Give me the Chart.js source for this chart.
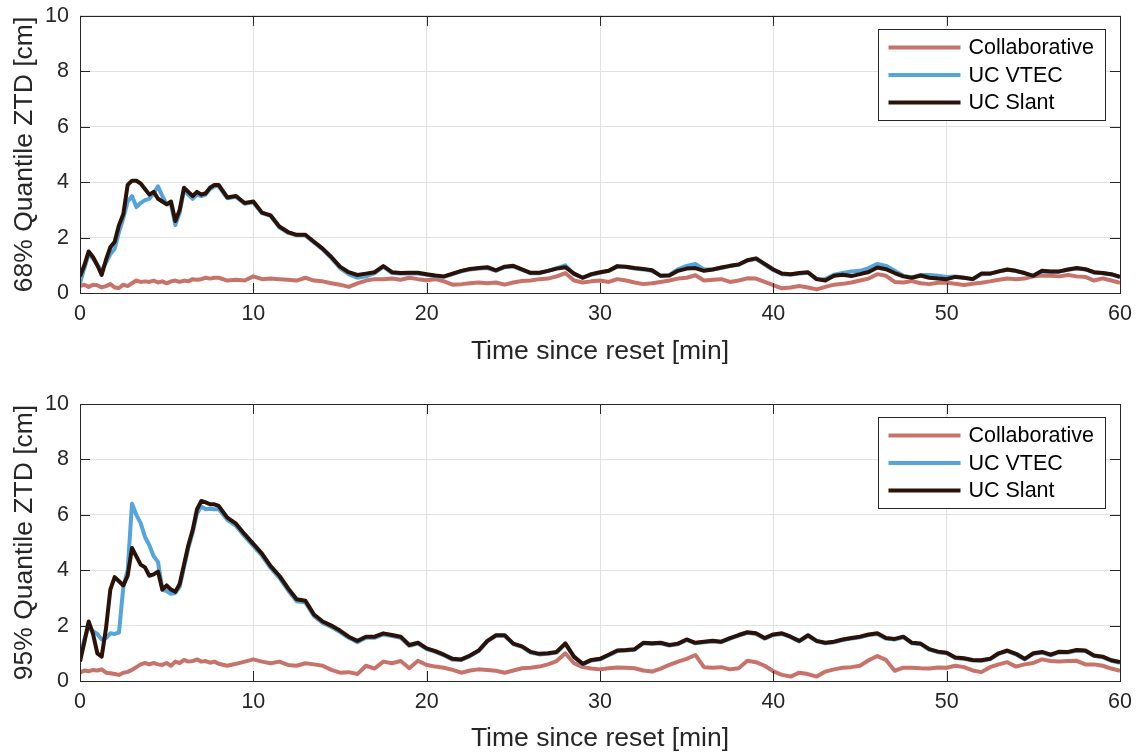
<!DOCTYPE html>
<html>
<head>
<meta charset="utf-8">
<script src="https://cdn.jsdelivr.net/npm/chart.js@4.4.1/dist/chart.umd.min.js"></script>
<style>
  body { margin: 0; background: #fff; overflow: hidden; }
  #wrap { position: relative; width: 1145px; height: 755px; overflow: hidden; }
  canvas { position: absolute; left: 0; }
</style>
</head>
<body>
<div id="wrap">
  <canvas id="chart68" width="1145" height="386" style="top:-8px"></canvas>
  <canvas id="chart95" width="1145" height="377" style="top:378px"></canvas>
</div>
<script>
// time since reset [min]
const timeMin = [0,0.25,0.5,0.75,1,1.25,1.5,1.75,2,2.25,2.5,2.75,3,3.25,3.5,3.75,4,4.25,4.5,4.75,5,5.25,5.5,5.75,6,6.25,6.5,6.75,7,7.25,7.5,7.75,8,
  8.5,9,9.5,10,10.5,11,11.5,12,12.5,13,13.5,14,14.5,15,15.5,16,16.5,17,17.5,18,18.5,19,19.5,20,20.5,21,21.5,22,22.5,23,23.5,24,24.5,25,25.5,26,26.5,27,27.5,28,
  28.5,29,29.5,30,30.5,31,31.5,32,32.5,33,33.5,34,34.5,35,35.5,36,36.5,37,37.5,38,38.5,39,39.5,40,40.5,41,41.5,42,42.5,43,43.5,44,44.5,45,45.5,46,46.5,47,47.5,48,
  48.5,49,49.5,50,50.5,51,51.5,52,52.5,53,53.5,54,54.5,55,55.5,56,56.5,57,57.5,58,58.5,59,59.5,60];

const seriesNames = ['Collaborative', 'UC VTEC', 'UC Slant'];
const xTicks = [0, 10, 20, 30, 40, 50, 60];
const yTicks = [0, 2, 4, 6, 8, 10];

// 68% quantile [cm]
const collab68 = [0.25,0.3,0.22,0.3,0.28,0.2,0.25,0.32,0.2,0.18,0.3,0.25,0.35,0.45,0.4,0.42,0.4,0.45,0.38,0.42,0.35,0.42,0.45,0.4,0.45,0.42,0.5,0.48,0.5,0.55,0.52,0.55,0.55,
  0.45,0.48,0.45,0.6,0.5,0.52,0.5,0.48,0.45,0.55,
  0.45,0.42,0.35,0.3,0.22,0.35,0.45,0.5,0.5,0.52,
  0.48,0.55,0.5,0.46,0.5,0.42,0.3,0.32,0.35,0.38,
  0.35,0.38,0.3,0.38,0.43,0.45,0.5,0.52,0.6,0.72,
  0.45,0.38,0.42,0.45,0.4,0.5,0.45,0.38,0.32,0.35,
  0.4,0.45,0.52,0.55,0.64,0.45,0.48,0.5,0.4,0.45,
  0.53,0.52,0.4,0.28,0.17,0.2,0.25,0.2,0.13,0.22,
  0.3,0.33,0.38,0.45,0.52,0.68,0.62,0.4,0.38,0.43,
  0.35,0.32,0.37,0.38,0.33,0.29,0.33,0.37,0.42,0.48,
  0.52,0.5,0.52,0.6,0.63,0.62,0.6,0.65,0.6,0.58,
  0.45,0.53,0.45,0.37];
const vtec68 = [0.35,0.9,1.4,1.25,1.0,0.8,1.1,1.4,1.6,2.2,2.7,3.3,3.5,3.1,3.25,3.35,3.4,3.6,3.85,3.5,3.2,3.2,2.45,2.9,3.7,3.55,3.4,3.55,3.5,3.55,3.75,3.85,3.85,
  3.42,3.47,3.22,3.27,2.88,2.78,2.37,2.17,2.08,2.08,
  1.82,1.57,1.26,0.9,0.68,0.55,0.6,0.72,0.95,0.72,
  0.7,0.71,0.7,0.66,0.6,0.58,0.68,0.78,0.85,0.88,
  0.9,0.8,0.93,0.96,0.83,0.71,0.71,0.8,0.9,1.0,
  0.68,0.55,0.66,0.73,0.8,0.95,0.94,0.88,0.85,0.8,
  0.62,0.65,0.85,0.98,1.05,0.85,0.85,0.9,0.97,1.02,
  1.17,1.23,1.03,0.83,0.68,0.66,0.7,0.73,0.5,0.5,
  0.66,0.72,0.78,0.8,0.9,1.05,0.98,0.8,0.62,0.56,
  0.65,0.65,0.62,0.58,0.6,0.55,0.5,0.68,0.69,0.77,
  0.84,0.79,0.71,0.62,0.78,0.77,0.77,0.84,0.88,0.85,
  0.74,0.71,0.67,0.57];
const slant68 = [0.6,1.0,1.5,1.3,1.0,0.65,1.2,1.65,1.85,2.45,2.85,3.9,4.05,4.05,3.95,3.75,3.55,3.65,3.4,3.3,3.2,3.3,2.6,3.0,3.8,3.65,3.5,3.65,3.55,3.6,3.8,3.9,3.9,
  3.45,3.5,3.25,3.3,2.9,2.8,2.4,2.2,2.1,2.1,
  1.85,1.6,1.3,0.95,0.75,0.65,0.7,0.75,0.97,0.75,
  0.72,0.73,0.73,0.68,0.63,0.6,0.7,0.8,0.87,0.9,
  0.93,0.82,0.95,0.98,0.85,0.73,0.73,0.8,0.88,0.93,
  0.7,0.55,0.68,0.75,0.8,0.97,0.95,0.9,0.87,0.82,
  0.62,0.63,0.8,0.88,0.9,0.8,0.85,0.92,0.98,1.03,
  1.18,1.25,1.05,0.85,0.7,0.68,0.72,0.75,0.5,0.45,
  0.62,0.66,0.61,0.68,0.76,0.92,0.86,0.72,0.6,0.55,
  0.63,0.55,0.52,0.5,0.58,0.55,0.5,0.7,0.7,0.78,
  0.85,0.8,0.72,0.62,0.8,0.78,0.78,0.85,0.9,0.86,
  0.75,0.72,0.68,0.58];

// 95% quantile [cm]
const collab95 = [0.3,0.38,0.35,0.4,0.38,0.42,0.3,0.28,0.25,0.22,0.3,0.33,0.4,0.5,0.6,0.65,0.6,0.65,0.6,0.58,0.65,0.55,0.7,0.65,0.76,0.7,0.72,0.78,0.7,0.72,0.66,0.7,0.62,
  0.55,0.62,0.7,0.78,0.7,0.64,0.7,0.58,0.55,0.64,
  0.6,0.55,0.4,0.3,0.32,0.25,0.55,0.45,0.7,0.64,
  0.72,0.46,0.73,0.58,0.52,0.48,0.4,0.3,0.38,0.42,
  0.4,0.37,0.3,0.38,0.46,0.48,0.52,0.6,0.72,1.0,
  0.64,0.5,0.45,0.42,0.46,0.49,0.48,0.46,0.38,0.34,
  0.45,0.58,0.7,0.8,0.94,0.5,0.48,0.5,0.42,0.46,
  0.73,0.68,0.55,0.35,0.22,0.16,0.3,0.25,0.16,0.34,
  0.42,0.48,0.5,0.55,0.75,0.9,0.76,0.37,0.48,0.48,
  0.46,0.45,0.49,0.48,0.55,0.5,0.38,0.32,0.5,0.6,
  0.68,0.52,0.6,0.65,0.78,0.72,0.7,0.72,0.73,0.6,
  0.6,0.55,0.45,0.37];
const vtec95 = [0.88,1.5,1.95,1.8,1.7,1.5,1.55,1.72,1.7,1.75,3.4,4.0,6.4,6.0,5.7,5.2,4.9,4.5,4.3,3.3,3.25,3.15,3.18,3.4,4.1,4.8,5.35,6.05,6.3,6.2,6.22,6.2,6.2,
  5.82,5.6,5.22,4.88,4.52,4.08,3.72,3.28,2.88,2.84,
  2.34,2.1,1.95,1.77,1.56,1.4,1.56,1.56,1.68,1.62,
  1.56,1.27,1.35,1.15,1.05,0.92,0.77,0.76,0.9,1.08,
  1.43,1.63,1.63,1.33,1.23,1.03,0.96,0.98,1.03,1.34,
  0.86,0.6,0.74,0.78,0.93,1.08,1.1,1.13,1.36,1.34,
  1.36,1.28,1.33,1.48,1.36,1.4,1.43,1.4,1.53,1.64,
  1.74,1.7,1.53,1.66,1.7,1.58,1.43,1.63,1.43,1.36,
  1.4,1.48,1.53,1.58,1.66,1.7,1.53,1.5,1.58,1.36,
  1.33,1.13,1.04,1.0,0.83,0.8,0.74,0.73,0.78,0.98,
  1.08,0.96,0.78,0.98,1.03,0.93,1.04,1.03,1.1,1.08,
  0.9,0.86,0.73,0.66];
const slant95 = [0.7,1.4,2.15,1.7,1.0,0.88,1.9,3.3,3.75,3.6,3.45,3.8,4.8,4.5,4.2,4.1,3.8,3.85,3.95,3.3,3.45,3.3,3.22,3.5,4.2,4.9,5.45,6.2,6.5,6.45,6.38,6.38,6.32,
  5.9,5.68,5.3,4.95,4.6,4.15,3.8,3.35,2.95,2.9,
  2.4,2.15,2.0,1.82,1.6,1.45,1.6,1.6,1.72,1.66,
  1.6,1.3,1.38,1.18,1.08,0.95,0.8,0.78,0.92,1.1,
  1.45,1.65,1.65,1.35,1.25,1.05,0.98,1.0,1.05,1.36,
  0.88,0.62,0.76,0.8,0.95,1.1,1.12,1.15,1.38,1.36,
  1.38,1.3,1.35,1.5,1.38,1.42,1.45,1.42,1.55,1.66,
  1.76,1.72,1.55,1.68,1.72,1.6,1.45,1.65,1.45,1.38,
  1.42,1.5,1.55,1.6,1.68,1.72,1.55,1.52,1.6,1.38,
  1.35,1.15,1.06,1.02,0.85,0.82,0.76,0.75,0.8,1.0,
  1.1,0.98,0.8,1.0,1.05,0.95,1.06,1.05,1.12,1.1,
  0.92,0.88,0.75,0.68];

const colors = ['#c8736a', '#55a5dd', '#2b1207'];
const fontFamily = '"Liberation Sans", Arial, Helvetica, sans-serif';

// box, inward ticks on all sides and legend, like matlab
const matlabFrame = {
  id: 'matlabFrame',
  afterDatasetsDraw(chart) {
    const { ctx, chartArea: a, scales } = chart;
    ctx.save();
    ctx.strokeStyle = '#262626';
    ctx.lineWidth = 1;
    ctx.beginPath();
    xTicks.forEach(v => {
      const x = Math.round(scales.x.getPixelForValue(v)) + 0.5;
      ctx.moveTo(x, a.bottom); ctx.lineTo(x, a.bottom - 10);
      ctx.moveTo(x, a.top); ctx.lineTo(x, a.top + 10);
    });
    yTicks.forEach(v => {
      const y = Math.round(scales.y.getPixelForValue(v)) + 0.5;
      ctx.moveTo(a.left, y); ctx.lineTo(a.left + 10, y);
      ctx.moveTo(a.right, y); ctx.lineTo(a.right - 10, y);
    });
    ctx.stroke();
    ctx.strokeRect(Math.round(a.left) + 0.5, Math.round(a.top) + 0.5, Math.round(a.right - a.left), Math.round(a.bottom - a.top));

    // legend box
    const bw = 227, bh = 91;
    const bx = Math.round(a.right) - 15 - bw + 0.5;
    const by = Math.round(a.top) + 13 + 0.5;
    ctx.fillStyle = '#fff';
    ctx.fillRect(bx, by, bw, bh);
    ctx.strokeRect(bx, by, bw, bh);
    ctx.font = '21.5px ' + fontFamily;
    ctx.textBaseline = 'middle';
    seriesNames.forEach((name, i) => {
      const y = by + 18 + i * 27.5;
      ctx.strokeStyle = colors[i];
      ctx.lineWidth = 4;
      ctx.beginPath();
      ctx.moveTo(bx + 10, y); ctx.lineTo(bx + 82, y);
      ctx.stroke();
      ctx.fillStyle = '#000';
      ctx.fillText(name, bx + 90, y + 1);
    });
    ctx.restore();
  }
};

function makeChart(id, series, yTitle, axisH, titlePad, topPad) {
  const datasets = series.map((vals, i) => ({
    label: seriesNames[i],
    data: timeMin.map((t, k) => ({ x: t, y: vals[k] })),
    borderColor: colors[i],
    borderWidth: 4,
    pointRadius: 0,
    tension: 0,
    borderJoinStyle: 'round',
    order: 3 - i
  }));
  return new Chart(document.getElementById(id), {
    type: 'line',
    data: { datasets },
    plugins: [matlabFrame],
    options: {
      responsive: false,
      animation: false,
      layout: { padding: { top: topPad, right: 25, left: 0, bottom: 0 } },
      plugins: { legend: { display: false }, tooltip: { enabled: false } },
      scales: {
        x: {
          type: 'linear', min: 0, max: 60,
          afterBuildTicks: s => { s.ticks = xTicks.map(v => ({ value: v })); },
          afterFit: s => { s.height = axisH; },
          grid: { color: '#e2e2e2', drawTicks: false },
          border: { display: false },
          ticks: { color: '#262626', padding: 8, font: { family: fontFamily, size: 21.5 }, maxRotation: 0 },
          title: { display: true, text: 'Time since reset [min]', color: '#262626',
                   font: { family: fontFamily, size: 26.5 }, padding: { top: 0, bottom: titlePad } }
        },
        y: {
          min: 0, max: 10,
          afterBuildTicks: s => { s.ticks = yTicks.map(v => ({ value: v })); },
          afterFit: s => { s.width = 80; },
          grid: { color: '#e2e2e2', drawTicks: false },
          border: { display: false },
          ticks: { color: '#262626', padding: 11, font: { family: fontFamily, size: 21.5 } },
          title: { display: true, text: yTitle, color: '#262626',
                   font: { family: fontFamily, size: 26.5 }, padding: { top: 9, bottom: 0 } }
        }
      }
    }
  });
}

makeChart('chart68', [collab68, vtec68, slant68], '68% Quantile ZTD [cm]', 85, 10, 23);
makeChart('chart95', [collab95, vtec95, slant95], '95% Quantile ZTD [cm]', 74, 0, 26);
</script>
</body>
</html>
